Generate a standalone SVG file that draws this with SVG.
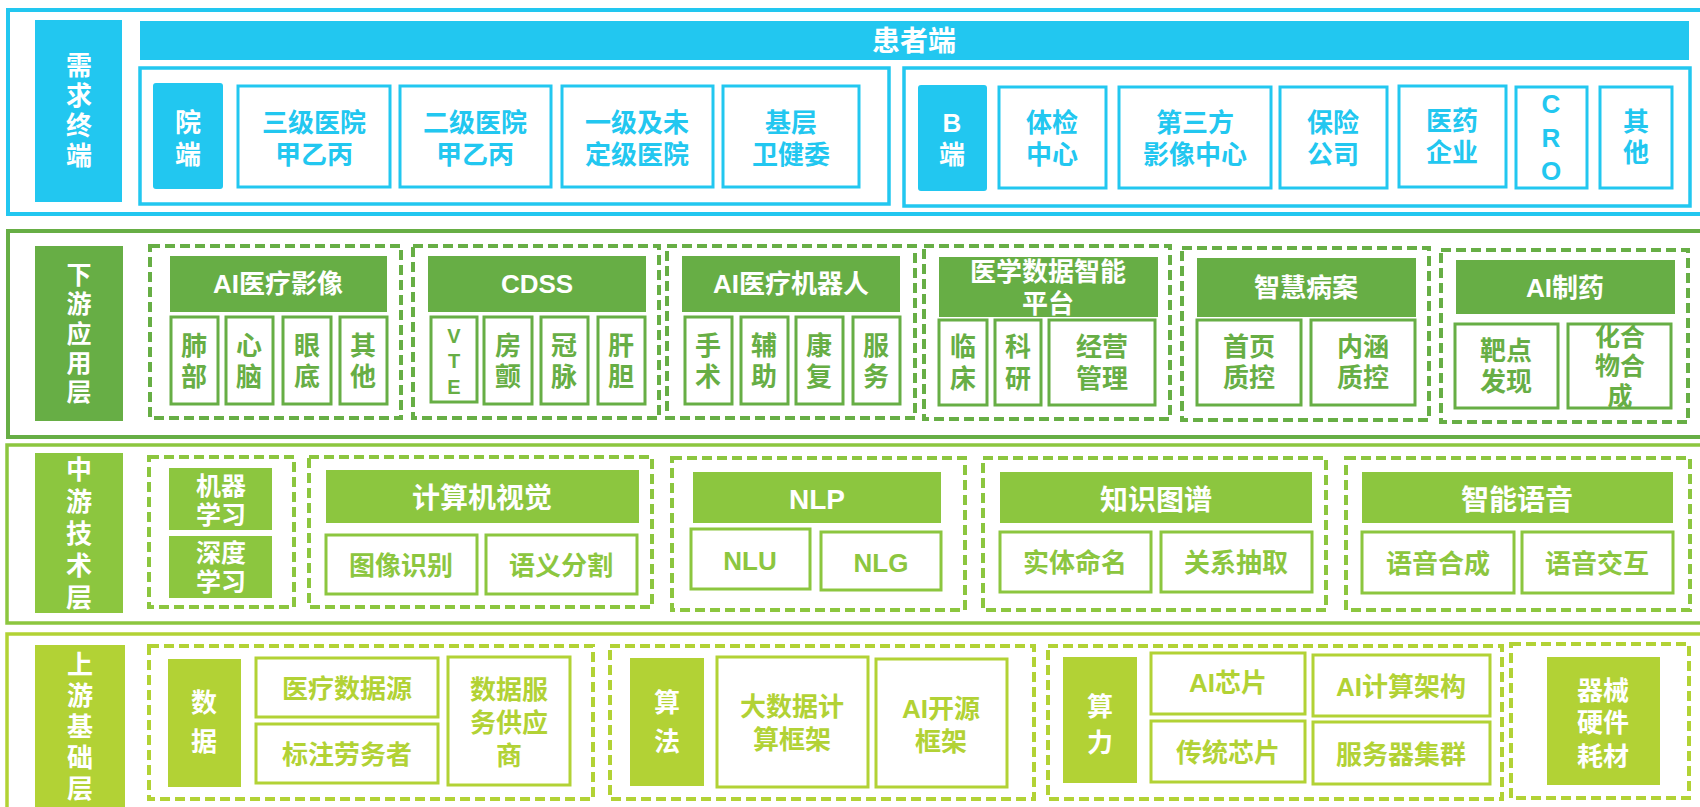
<svg xmlns="http://www.w3.org/2000/svg" width="1700" height="807" viewBox="0 0 1700 807">
<style>
text{font-family:"Liberation Sans","Noto Sans CJK SC",sans-serif;font-weight:bold;text-anchor:middle;dominant-baseline:central;font-size:26px}
.c1{fill:#22C7F0}.c2{fill:#67AE45}.c3{fill:#8CC63F}.c4{fill:#B2D235}
.w{fill:#FFFFFF}
.o1{fill:none;stroke:#22C7F0;stroke-width:4}
.o2{fill:none;stroke:#67AE45;stroke-width:4}
.o3{fill:none;stroke:#8CC63F;stroke-width:3.5}
.o4{fill:none;stroke:#B2D235;stroke-width:3.5}
.g1{fill:none;stroke:#22C7F0;stroke-width:3.5}
.b1{fill:#FFFFFF;stroke:#22C7F0;stroke-width:3}
.b2{fill:#FFFFFF;stroke:#67AE45;stroke-width:3}
.b3{fill:#FFFFFF;stroke:#8CC63F;stroke-width:3}
.b4{fill:#FFFFFF;stroke:#B2D235;stroke-width:3}
.d2{fill:none;stroke:#67AE45;stroke-width:4;stroke-dasharray:10 5}
.d3{fill:none;stroke:#8CC63F;stroke-width:4;stroke-dasharray:10 5}
.d4{fill:none;stroke:#B2D235;stroke-width:4;stroke-dasharray:10 5}
.big{font-size:28px}
.sm{font-size:20px}
.v{font-size:25px}
</style>
<rect width="1700" height="807" fill="#FFFFFF"/>

<!-- Layer 1: 需求终端 -->
<g id="layer1">
<rect class="o1" x="8" y="10" width="1710" height="204"/>
<g id="label1"><rect class="c1" x="35" y="20" width="87" height="182"/>
<text class="w"><tspan x="79" y="66">需</tspan><tspan x="79" y="96">求</tspan><tspan x="79" y="126">终</tspan><tspan x="79" y="156">端</tspan></text></g>
<g id="patient"><rect class="c1" x="140" y="21" width="1549" height="39"/><text class="w big" x="914" y="41">患者端</text></g>
<g id="hospital-group"><rect class="g1" x="140" y="68" width="749" height="136"/>
<rect class="c1" x="153" y="83" width="70" height="106" rx="3"/><text class="w"><tspan x="188" y="123">院</tspan><tspan x="188" y="155">端</tspan></text></g>
<g id="h3"><rect class="b1" x="238" y="86" width="152" height="101"/><text class="c1"><tspan x="314" y="123">三级医院</tspan><tspan x="314" y="155">甲乙丙</tspan></text></g>
<g id="h2"><rect class="b1" x="400" y="86" width="151" height="101"/><text class="c1"><tspan x="475" y="123">二级医院</tspan><tspan x="475" y="155">甲乙丙</tspan></text></g>
<g id="h1"><rect class="b1" x="562" y="86" width="151" height="101"/><text class="c1"><tspan x="637" y="123">一级及未</tspan><tspan x="637" y="155">定级医院</tspan></text></g>
<g id="hb"><rect class="b1" x="723" y="86" width="136" height="101"/><text class="c1"><tspan x="791" y="123">基层</tspan><tspan x="791" y="155">卫健委</tspan></text></g>
<g id="b-group"><rect class="g1" x="904" y="68" width="786" height="138"/>
<rect class="c1" x="918" y="85" width="69" height="106" rx="3"/><text class="w"><tspan x="952" y="123">B</tspan><tspan x="952" y="155">端</tspan></text></g>
<g id="tj"><rect class="b1" x="999" y="87" width="107" height="101"/><text class="c1"><tspan x="1052" y="123">体检</tspan><tspan x="1052" y="155">中心</tspan></text></g>
<g id="dsf"><rect class="b1" x="1119" y="87" width="152" height="101"/><text class="c1"><tspan x="1195" y="123">第三方</tspan><tspan x="1195" y="155">影像中心</tspan></text></g>
<g id="bx"><rect class="b1" x="1280" y="87" width="107" height="101"/><text class="c1"><tspan x="1333" y="123">保险</tspan><tspan x="1333" y="155">公司</tspan></text></g>
<g id="yy"><rect class="b1" x="1399" y="86" width="107" height="101"/><text class="c1"><tspan x="1452" y="121">医药</tspan><tspan x="1452" y="153">企业</tspan></text></g>
<g id="cro"><rect class="b1" x="1516" y="87" width="71" height="101"/><text class="c1"><tspan x="1551" y="104">C</tspan><tspan x="1551" y="138">R</tspan><tspan x="1551" y="171">O</tspan></text></g>
<g id="qt1"><rect class="b1" x="1600" y="87" width="72" height="101"/><text class="c1"><tspan x="1636" y="122">其</tspan><tspan x="1636" y="153">他</tspan></text></g>
</g>

<!-- Layer 2: 下游应用层 -->
<g id="layer2">
<rect class="o2" x="8" y="231" width="1710" height="206"/>
<g id="label2"><rect class="c2" x="35" y="246" width="88" height="175"/>
<text class="w v"><tspan x="79" y="275">下</tspan><tspan x="79" y="304">游</tspan><tspan x="79" y="334">应</tspan><tspan x="79" y="363">用</tspan><tspan x="79" y="392">层</tspan></text></g>
<g id="ai-img"><rect class="d2" x="150" y="246" width="251" height="172"/>
<rect class="c2" x="170" y="256" width="217" height="56"/><text class="w" x="278" y="284">AI医疗影像</text>
<rect class="b2" x="171" y="317" width="47" height="87"/><text class="c2"><tspan x="194" y="346">肺</tspan><tspan x="194" y="377">部</tspan></text>
<rect class="b2" x="226" y="317" width="47" height="87"/><text class="c2"><tspan x="249" y="346">心</tspan><tspan x="249" y="377">脑</tspan></text>
<rect class="b2" x="283" y="317" width="48" height="87"/><text class="c2"><tspan x="307" y="346">眼</tspan><tspan x="307" y="377">底</tspan></text>
<rect class="b2" x="340" y="317" width="47" height="87"/><text class="c2"><tspan x="363" y="346">其</tspan><tspan x="363" y="377">他</tspan></text></g>
<g id="cdss"><rect class="d2" x="413" y="246" width="246" height="172"/>
<rect class="c2" x="428" y="256" width="218" height="56"/><text class="w" x="537" y="284">CDSS</text>
<rect class="b2" x="431" y="317" width="46" height="85"/><text class="c2 sm"><tspan x="454" y="336">V</tspan><tspan x="454" y="361">T</tspan><tspan x="454" y="387">E</tspan></text>
<rect class="b2" x="484" y="317" width="48" height="87"/><text class="c2"><tspan x="508" y="346">房</tspan><tspan x="508" y="377">颤</tspan></text>
<rect class="b2" x="541" y="317" width="47" height="87"/><text class="c2"><tspan x="564" y="346">冠</tspan><tspan x="564" y="377">脉</tspan></text>
<rect class="b2" x="598" y="317" width="47" height="87"/><text class="c2"><tspan x="621" y="346">肝</tspan><tspan x="621" y="377">胆</tspan></text></g>
<g id="robot"><rect class="d2" x="667" y="246" width="248" height="172"/>
<rect class="c2" x="682" y="256" width="218" height="56"/><text class="w" x="791" y="284">AI医疗机器人</text>
<rect class="b2" x="685" y="317" width="47" height="87"/><text class="c2"><tspan x="708" y="346">手</tspan><tspan x="708" y="377">术</tspan></text>
<rect class="b2" x="741" y="317" width="47" height="87"/><text class="c2"><tspan x="764" y="346">辅</tspan><tspan x="764" y="377">助</tspan></text>
<rect class="b2" x="796" y="317" width="47" height="87"/><text class="c2"><tspan x="819" y="346">康</tspan><tspan x="819" y="377">复</tspan></text>
<rect class="b2" x="853" y="317" width="47" height="87"/><text class="c2"><tspan x="876" y="346">服</tspan><tspan x="876" y="377">务</tspan></text></g>
<g id="data-platform"><rect class="d2" x="924" y="246" width="246" height="173"/>
<rect class="c2" x="939" y="257" width="219" height="60"/><text class="w"><tspan x="1048" y="272">医学数据智能</tspan><tspan x="1048" y="304">平台</tspan></text>
<rect class="b2" x="939" y="320" width="48" height="85"/><text class="c2"><tspan x="963" y="347">临</tspan><tspan x="963" y="379">床</tspan></text>
<rect class="b2" x="995" y="320" width="46" height="85"/><text class="c2"><tspan x="1018" y="347">科</tspan><tspan x="1018" y="379">研</tspan></text>
<rect class="b2" x="1049" y="320" width="106" height="85"/><text class="c2"><tspan x="1102" y="347">经营</tspan><tspan x="1102" y="379">管理</tspan></text></g>
<g id="emr"><rect class="d2" x="1182" y="248" width="247" height="172"/>
<rect class="c2" x="1197" y="258" width="219" height="59"/><text class="w" x="1306" y="288">智慧病案</text>
<rect class="b2" x="1197" y="320" width="104" height="85"/><text class="c2"><tspan x="1249" y="347">首页</tspan><tspan x="1249" y="378">质控</tspan></text>
<rect class="b2" x="1311" y="320" width="104" height="85"/><text class="c2"><tspan x="1363" y="347">内涵</tspan><tspan x="1363" y="378">质控</tspan></text></g>
<g id="drug"><rect class="d2" x="1441" y="250" width="247" height="172"/>
<rect class="c2" x="1456" y="260" width="219" height="54"/><text class="w" x="1565" y="288">AI制药</text>
<rect class="b2" x="1455" y="324" width="103" height="84"/><text class="c2"><tspan x="1506" y="351">靶点</tspan><tspan x="1506" y="382">发现</tspan></text>
<rect class="b2" x="1568" y="324" width="103" height="84"/><text class="c2 v"><tspan x="1620" y="337">化合</tspan><tspan x="1620" y="366">物合</tspan><tspan x="1620" y="396">成</tspan></text></g>
</g>

<!-- Layer 3: 中游技术层 -->
<g id="layer3">
<rect class="o3" x="7" y="445" width="1710" height="178"/>
<g id="label3"><rect class="c3" x="35" y="453" width="88" height="160"/>
<text class="w"><tspan x="79" y="470">中</tspan><tspan x="79" y="502">游</tspan><tspan x="79" y="534">技</tspan><tspan x="79" y="566">术</tspan><tspan x="79" y="598">层</tspan></text></g>
<g id="ml"><rect class="d3" x="149" y="457" width="145" height="150"/>
<rect class="c3" x="169" y="468" width="103" height="62"/><text class="w v"><tspan x="221" y="486">机器</tspan><tspan x="221" y="515">学习</tspan></text>
<rect class="c3" x="169" y="536" width="103" height="62"/><text class="w v"><tspan x="221" y="553">深度</tspan><tspan x="221" y="582">学习</tspan></text></g>
<g id="cv"><rect class="d3" x="309" y="457" width="343" height="150"/>
<rect class="c3" x="326" y="470" width="313" height="53"/><text class="w big" x="482" y="498">计算机视觉</text>
<rect class="b3" x="326" y="535" width="151" height="59"/><text class="c3" x="401" y="566">图像识别</text>
<rect class="b3" x="486" y="535" width="151" height="59"/><text class="c3" x="561" y="566">语义分割</text></g>
<g id="nlp"><rect class="d3" x="672" y="458" width="293" height="152"/>
<rect class="c3" x="693" y="472" width="248" height="51"/><text class="w big" x="817" y="499">NLP</text>
<rect class="b3" x="691" y="529" width="119" height="60"/><text class="c3" x="750" y="561">NLU</text>
<rect class="b3" x="821" y="532" width="120" height="58"/><text class="c3" x="881" y="563">NLG</text></g>
<g id="kg"><rect class="d3" x="983" y="458" width="343" height="152"/>
<rect class="c3" x="1000" y="472" width="312" height="51"/><text class="w big" x="1156" y="500">知识图谱</text>
<rect class="b3" x="1000" y="532" width="151" height="60"/><text class="c3" x="1075" y="563">实体命名</text>
<rect class="b3" x="1161" y="532" width="151" height="60"/><text class="c3" x="1236" y="563">关系抽取</text></g>
<g id="voice"><rect class="d3" x="1346" y="458" width="344" height="152"/>
<rect class="c3" x="1362" y="472" width="311" height="51"/><text class="w big" x="1517" y="500">智能语音</text>
<rect class="b3" x="1362" y="532" width="152" height="61"/><text class="c3" x="1438" y="564">语音合成</text>
<rect class="b3" x="1522" y="532" width="151" height="61"/><text class="c3" x="1597" y="564">语音交互</text></g>
</g>

<!-- Layer 4: 上游基础层 -->
<g id="layer4">
<rect class="o4" x="7" y="634" width="1710" height="200"/>
<g id="label4"><rect class="c4" x="35" y="645" width="90" height="165"/>
<text class="w"><tspan x="80" y="665">上</tspan><tspan x="80" y="696">游</tspan><tspan x="80" y="727">基</tspan><tspan x="80" y="758">础</tspan><tspan x="80" y="789">层</tspan></text></g>
<g id="data"><rect class="d4" x="149" y="646" width="444" height="153"/>
<rect class="c4" x="168" y="659" width="73" height="128"/><text class="w"><tspan x="204" y="703">数</tspan><tspan x="204" y="742">据</tspan></text>
<rect class="b4" x="256" y="658" width="182" height="59"/><text class="c4" x="347" y="689">医疗数据源</text>
<rect class="b4" x="256" y="724" width="182" height="59"/><text class="c4" x="347" y="755">标注劳务者</text>
<rect class="b4" x="448" y="657" width="122" height="128"/><text class="c4"><tspan x="509" y="690">数据服</tspan><tspan x="509" y="723">务供应</tspan><tspan x="509" y="756">商</tspan></text></g>
<g id="algo"><rect class="d4" x="610" y="646" width="424" height="153"/>
<rect class="c4" x="630" y="658" width="74" height="128"/><text class="w"><tspan x="667" y="703">算</tspan><tspan x="667" y="742">法</tspan></text>
<rect class="b4" x="717" y="657" width="151" height="130"/><text class="c4"><tspan x="792" y="707">大数据计</tspan><tspan x="792" y="740">算框架</tspan></text>
<rect class="b4" x="876" y="659" width="131" height="128"/><text class="c4"><tspan x="941" y="709">AI开源</tspan><tspan x="941" y="742">框架</tspan></text></g>
<g id="compute"><rect class="d4" x="1048" y="646" width="454" height="153"/>
<rect class="c4" x="1063" y="657" width="74" height="126"/><text class="w"><tspan x="1100" y="707">算</tspan><tspan x="1100" y="743">力</tspan></text>
<rect class="b4" x="1151" y="653" width="154" height="61"/><text class="c4" x="1228" y="683">AI芯片</text>
<rect class="b4" x="1313" y="655" width="177" height="61"/><text class="c4" x="1401" y="687">AI计算架构</text>
<rect class="b4" x="1151" y="721" width="154" height="61"/><text class="c4" x="1228" y="753">传统芯片</text>
<rect class="b4" x="1313" y="722" width="177" height="62"/><text class="c4" x="1401" y="755">服务器集群</text></g>
<g id="device"><rect class="d4" x="1511" y="644" width="178" height="154"/>
<rect class="c4" x="1547" y="657" width="113" height="128"/><text class="w"><tspan x="1603" y="691">器械</tspan><tspan x="1603" y="723">硬件</tspan><tspan x="1603" y="757">耗材</tspan></text></g>
</g>

<g id="connectors"></g>
</svg>
